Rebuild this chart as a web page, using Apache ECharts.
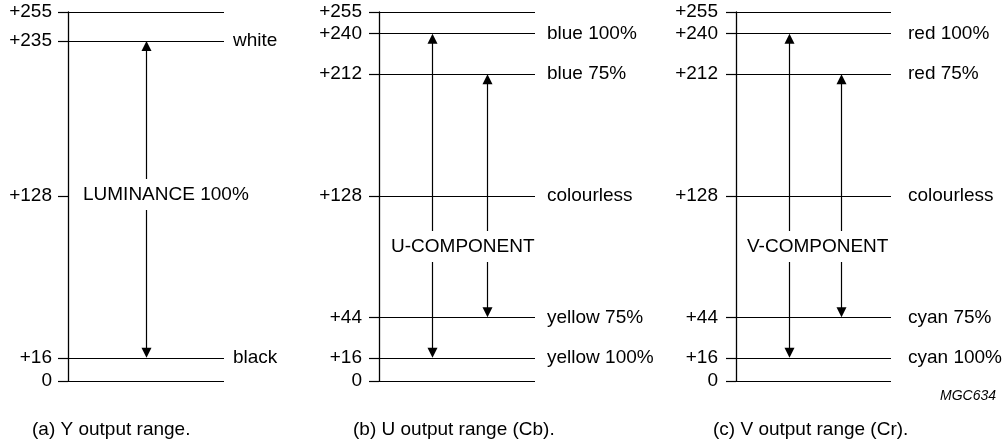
<!DOCTYPE html>
<html><head><meta charset="utf-8">
<script src="https://cdn.jsdelivr.net/npm/echarts@6/dist/echarts.min.js"></script>
<style>html,body{margin:0;padding:0;background:#fff}#c{width:1005px;height:444px}</style>
</head><body><div id="c"></div>
<script>
// ---------- DATA ----------
// (a) Y output range
const yTicks = [0, 16, 128, 235, 255];
const yTickLabels = ['0', '+16', '+128', '+235', '+255'];
const yLines = [0, 16, 235, 255];
const yLineNames = ['', 'black', 'white', ''];
const yArrows = [[235, 16]];
const yComponent = 'LUMINANCE 100%';
const yCaption = '(a) Y output range.';

// (b) U output range (Cb)
const uTicks = [0, 16, 44, 128, 212, 240, 255];
const uTickLabels = ['0', '+16', '+44', '+128', '+212', '+240', '+255'];
const uLines = [0, 16, 44, 128, 212, 240, 255];
const uLineNames = ['', 'yellow 100%', 'yellow 75%', 'colourless', 'blue 75%', 'blue 100%', ''];
const uArrows = [[240, 16], [212, 44]];
const uComponent = 'U-COMPONENT';
const uCaption = '(b) U output range (Cb).';

// (c) V output range (Cr)
const vTicks = [0, 16, 44, 128, 212, 240, 255];
const vTickLabels = ['0', '+16', '+44', '+128', '+212', '+240', '+255'];
const vLines = [0, 16, 44, 128, 212, 240, 255];
const vLineNames = ['', 'cyan 100%', 'cyan 75%', 'colourless', 'red 75%', 'red 100%', ''];
const vArrows = [[240, 16], [212, 44]];
const vComponent = 'V-COMPONENT';
const vCaption = '(c) V output range (Cr).';

const figureId = 'MGC634';

// ---------- LAYOUT ----------
const FONT = "'Liberation Sans', Arial, Helvetica, sans-serif";
const FS = 19;
const panels = [
  {ticks: yTicks, tickLabels: yTickLabels, lines: yLines, names: yLineNames, arrows: yArrows,
   left: 68, width: 156, labelDist: 9, labelMargin: 16, arrowX: [0.5],
   comp: yComponent, compX: 83, compY: 193, caption: yCaption, capX: 32},
  {ticks: uTicks, tickLabels: uTickLabels, lines: uLines, names: uLineNames, arrows: uArrows,
   left: 379, width: 156, labelDist: 12, labelMargin: 17, arrowX: [0.34, 0.69],
   comp: uComponent, compX: 391, compY: 245, caption: uCaption, capX: 353},
  {ticks: vTicks, tickLabels: vTickLabels, lines: vLines, names: vLineNames, arrows: vArrows,
   left: 736, width: 155, labelDist: 17, labelMargin: 18, arrowX: [0.34, 0.68],
   comp: vComponent, compX: 747, compY: 245, caption: vCaption, capX: 713}
];

const grids = [], xAxes = [], yAxes = [], series = [], graphics = [];

function arrowRenderer(xs) {
  return function (params, api) {
    const a = api.value(0), b = api.value(1);
    const x = xs[params.dataIndex];
    const p1 = api.coord([x, Math.max(a, b)]);
    const p2 = api.coord([x, Math.min(a, b)]);
    const hw = 5, hh = 10;
    const px = Math.round(p1[0]) + 0.5;
    return {
      type: 'group',
      children: [
        {type: 'line', shape: {x1: px, y1: p1[1] + hh - 1, x2: px, y2: p2[1] - hh + 1},
         style: {stroke: '#000', lineWidth: 1.2}},
        {type: 'polygon', shape: {points: [[px, p1[1]], [px - hw, p1[1] + hh], [px + hw, p1[1] + hh]]},
         style: {fill: '#000'}},
        {type: 'polygon', shape: {points: [[px, p2[1]], [px - hw, p2[1] - hh], [px + hw, p2[1] - hh]]},
         style: {fill: '#000'}}
      ]
    };
  };
}

panels.forEach((p, i) => {
  grids.push({left: p.left, top: 12, width: p.width, height: 369, containLabel: false});
  xAxes.push({type: 'value', gridIndex: i, min: 0, max: 1, show: false});
  yAxes.push({
    type: 'value', gridIndex: i, min: 0, max: 255,
    axisLine: {show: true, lineStyle: {color: '#000', width: 1.3}},
    axisTick: {show: true, length: 10, customValues: p.ticks, lineStyle: {color: '#000', width: 1.2}},
    axisLabel: {
      show: true, customValues: p.ticks, margin: p.labelMargin,
      color: '#000', fontSize: FS, fontFamily: FONT,
      formatter: v => { const k = p.ticks.indexOf(v); return k >= 0 ? p.tickLabels[k] : ''; }
    },
    splitLine: {show: false}
  });
  series.push({
    type: 'custom', xAxisIndex: i, yAxisIndex: i, silent: true,
    data: p.arrows,
    encode: {y: [0, 1]},
    renderItem: arrowRenderer(p.arrowX),
    markLine: {
      silent: true, symbol: 'none', animation: false,
      lineStyle: {color: '#000', width: 1.2, type: 'solid'},
      label: {show: true, position: 'end', distance: p.labelDist, formatter: '{b}',
              color: '#000', fontSize: FS, fontFamily: FONT},
      emphasis: {disabled: true},
      data: p.lines.map((v, k) => ({yAxis: v, name: p.names[k]}))
    }
  });
  graphics.push({
    type: 'text', z: 100, left: p.compX, top: p.compY - 14,
    style: {text: p.comp, fill: '#000', font: FS + 'px ' + FONT,
            backgroundColor: '#fff', padding: [6, 0, 6, 0]}
  });
  graphics.push({
    type: 'text', z: 100, left: p.capX, top: 420,
    style: {text: p.caption, fill: '#000', font: FS + 'px ' + FONT}
  });
});
graphics.push({
  type: 'text', z: 100, left: 940, top: 389,
  style: {text: figureId, fill: '#000', font: 'italic 14px ' + FONT}
});

const chart = echarts.init(document.getElementById('c'), null, {renderer: 'canvas'});
chart.setOption({
  animation: false,
  backgroundColor: '#fff',
  grid: grids, xAxis: xAxes, yAxis: yAxes, series: series, graphic: graphics
});
</script></body></html>
